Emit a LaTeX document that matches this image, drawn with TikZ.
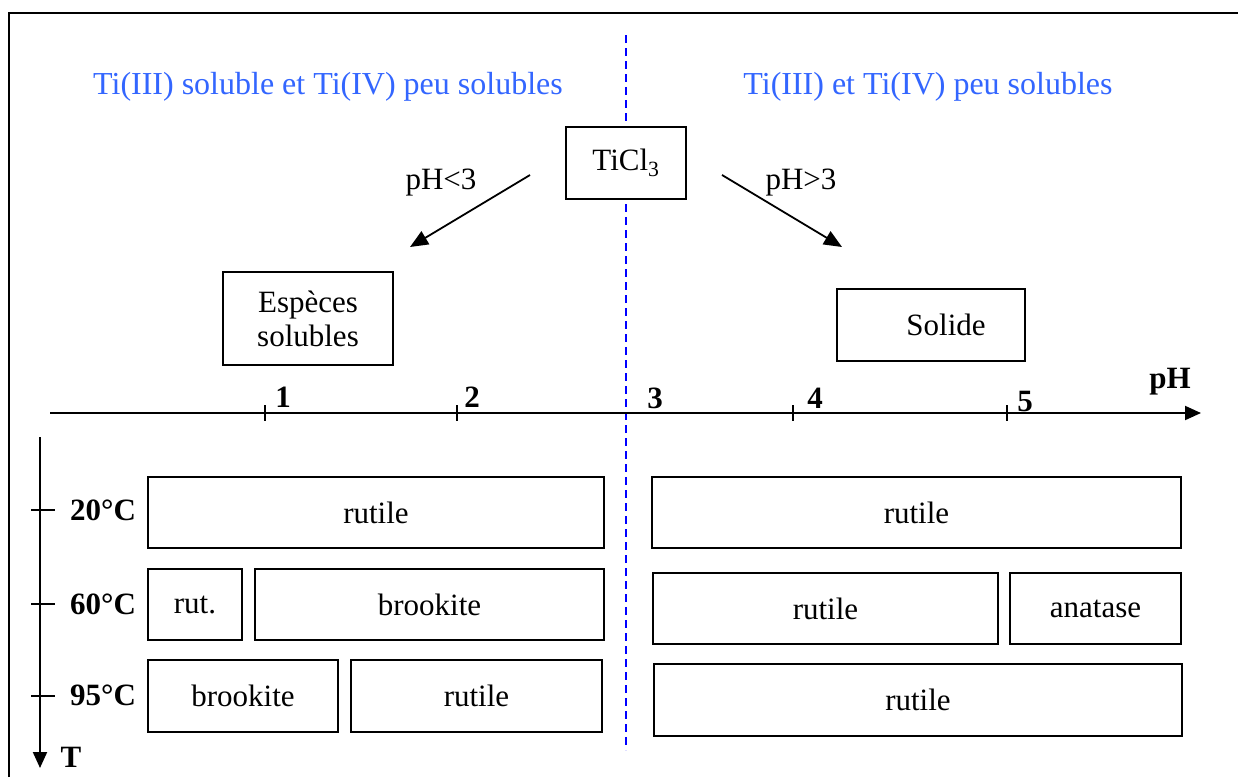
\documentclass[tikz,border=0pt]{standalone}
\usepackage{fontspec}
\setmainfont{Liberation Serif}
\usetikzlibrary{arrows.meta}
\definecolor{tblue}{RGB}{51,102,255}
\definecolor{dblue}{RGB}{0,0,255}
\begin{document}
\begin{tikzpicture}[x=1pt,y=-1pt,
  box/.style={draw, fill=white, line width=2pt, inner sep=0pt, font=\fontsize{31}{34}\selectfont, align=center},
  lbl/.style={font=\fontsize{31}{34}\selectfont, inner sep=0pt},
  blbl/.style={font=\fontsize{31}{34}\selectfont\bfseries, inner sep=0pt},
  btxt/.style={font=\fontsize{32}{35}\selectfont, text=tblue, inner sep=0pt},
  arr/.style={line width=1.8pt, -{Triangle[length=18pt,width=15pt]}},
  axis/.style={line width=2pt, -{Triangle[length=16pt,width=14pt]}},
  tick/.style={line width=1.8pt},
  ]
\useasboundingbox (0,0) rectangle (1238,777);
\fill[white] (0,0) rectangle (1238,777);
% frame
\draw[line width=2.8pt] (9,777) -- (9,13) -- (1238,13);
% blue dashed divider
\coordinate (dtop) at (626,35);
\coordinate (dbot) at (626,750);
\draw[dblue, line width=2pt, dash pattern=on 8pt off 5pt] (dtop) -- (dbot);
% titles
\node[btxt] (tleft) at (328,87) {Ti(III) soluble et Ti(IV) peu solubles};
\node[btxt] (tright) at (928,87) {Ti(III) et Ti(IV) peu solubles};
% TiCl3
\node[box, minimum width=120, minimum height=72] (ticl) at (626,163) {TiCl\textsubscript{3}};
% arrows
\coordinate (a1s) at (530,175);
\coordinate (a1e) at (410,247);
\coordinate (a2s) at (722,175);
\coordinate (a2e) at (842,247);
\draw[arr] (a1s) -- (a1e);
\draw[arr] (a2s) -- (a2e);
\node[lbl] (phlt) at (441,183) {pH<3};
\node[lbl] (phgt) at (801,183) {pH>3};
% upper boxes
\node[box, minimum width=170, minimum height=93] (esp) at (308,318.5) {Espèces\\solubles};
\node[box, minimum width=188, minimum height=72] (sol) at (931,325) {\hspace*{30pt}Solide};
% pH axis
\coordinate (phs) at (50,413);
\coordinate (phe) at (1201,413);
\draw[axis] (phs) -- (phe);
\foreach \x/\n in {265/t1,457/t2,793/t4,1007/t5}{
  \coordinate (\n a) at (\x,405);
  \coordinate (\n b) at (\x,421);
  \draw[tick] (\n a) -- (\n b);
}
\node[blbl] (n1) at (283,397) {1};
\node[blbl] (n2) at (472,397) {2};
\node[blbl] (n3) at (655,398) {3};
\node[blbl] (n4) at (815,398) {4};
\node[blbl] (n5) at (1025,401) {5};
\node[blbl] (nph) at (1170,382) {pH};
% T axis
\coordinate (ts) at (40,437);
\coordinate (te) at (40,768);
\draw[axis] (ts) -- (te);
\foreach \y/\n in {510/u1,604/u2,696/u3}{
  \coordinate (\n a) at (31,\y);
  \coordinate (\n b) at (55,\y);
  \draw[tick] (\n a) -- (\n b);
}
\node[blbl] (c20) at (103,510) {20°C};
\node[blbl] (c60) at (103,604) {60°C};
\node[blbl] (c95) at (103,695) {95°C};
\node[blbl] (nT) at (71,757) {T};
% left boxes
\node[box, minimum width=456, minimum height=71] (l1) at (376,512.5) {rutile};
\node[box, minimum width=94, minimum height=71] (l2a) at (195,604.5) {rut.};
\node[box, minimum width=349, minimum height=71] (l2b) at (429.5,604.5) {brookite};
\node[box, minimum width=190, minimum height=72] (l3a) at (243,696) {brookite};
\node[box, minimum width=251, minimum height=72] (l3b) at (476.5,696) {rutile};
% right boxes
\node[box, minimum width=529, minimum height=71] (r1) at (916.5,512.5) {rutile};
\node[box, minimum width=345, minimum height=71] (r2a) at (825.5,608.5) {rutile};
\node[box, minimum width=171, minimum height=71] (r2b) at (1095.5,608.5) {anatase};
\node[box, minimum width=528, minimum height=72] (r3) at (918,700) {rutile};
\end{tikzpicture}
\end{document}
